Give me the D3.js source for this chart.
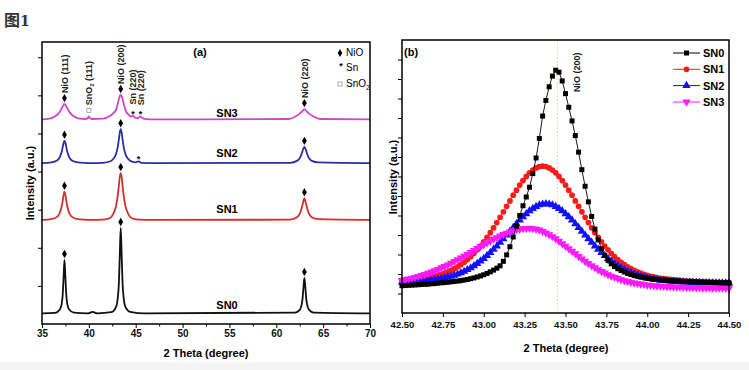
<!DOCTYPE html>
<html>
<head>
<meta charset="utf-8">
<script src="https://cdn.jsdelivr.net/npm/d3@7/dist/d3.min.js"></script>
<style>
  body { margin: 0; background: #fff; }
  svg { display: block; font-family: "Liberation Sans", Arial, sans-serif; }
</style>
</head>
<body>
<script>
// (a) XRD patterns, [2theta, intensity] pairs
var sn0 = [[35,0.28],[36.4,0.29],[36.9,0.38],[37.1,0.52],[37.2,0.74],[37.3,1.20],[37.4,1.68],[37.5,1.20],[37.6,0.74],[37.7,0.52],[37.9,0.38],[38.4,0.30],
  [39.9,0.28],[40.4,0.32],[40.9,0.28],[42.4,0.31],[42.9,0.45],[43.1,0.72],[43.2,1.05],[43.3,1.80],[43.4,2.52],[43.5,1.80],[43.6,1.05],[43.7,0.72],[43.9,0.45],[44.4,0.32],
  [46,0.28],[62.0,0.30],[62.5,0.37],[62.7,0.50],[62.8,0.66],[62.9,0.96],[63.0,1.21],[63.1,0.96],[63.2,0.66],[63.3,0.50],[63.5,0.37],[64.0,0.30],[70,0.28]];
var sn1 = [[35,2.73],[36.0,2.75],[36.6,2.81],[36.9,2.92],[37.1,3.09],[37.2,3.22],[37.3,3.38],[37.4,3.47],[37.5,3.38],[37.6,3.22],[37.7,3.09],[37.9,2.92],[38.2,2.81],[38.8,2.75],
  [40,2.73],[41.5,2.74],[42.3,2.79],[42.6,2.89],[42.9,3.10],[43.1,3.40],[43.2,3.62],[43.3,3.86],[43.4,3.96],[43.5,3.86],[43.6,3.62],[43.7,3.40],[43.9,3.10],[44.2,2.89],[44.5,2.79],[45.3,2.74],
  [47,2.73],[61.5,2.74],[62.2,2.80],[62.5,2.89],[62.7,3.03],[62.8,3.13],[62.9,3.23],[63.0,3.30],[63.1,3.23],[63.2,3.13],[63.3,3.03],[63.5,2.89],[63.8,2.80],[64.5,2.75],[70,2.73]];
var sn2 = [[35,4.22],[36.0,4.24],[36.6,4.29],[36.9,4.38],[37.1,4.52],[37.2,4.63],[37.3,4.75],[37.4,4.81],[37.5,4.75],[37.6,4.63],[37.7,4.52],[37.9,4.38],[38.2,4.29],[38.8,4.24],
  [40,4.22],[41.5,4.23],[42.3,4.27],[42.6,4.33],[42.9,4.46],[43.1,4.67],[43.2,4.84],[43.3,5.02],[43.4,5.11],[43.5,5.02],[43.6,4.84],[43.7,4.67],[43.9,4.46],[44.2,4.33],[44.6,4.26],
  [45.0,4.24],[45.3,4.27],[45.6,4.23],[47,4.22],[61.5,4.23],[62.2,4.28],[62.5,4.35],[62.7,4.46],[62.8,4.54],[62.9,4.61],[63.0,4.65],[63.1,4.61],[63.2,4.54],[63.3,4.46],[63.5,4.35],[63.8,4.28],[64.5,4.24],[70,4.22]];
var sn3 = [[35,5.37],[35.8,5.39],[36.4,5.45],[36.9,5.57],[37.1,5.66],[37.2,5.70],[37.3,5.75],[37.4,5.77],[37.5,5.75],[37.6,5.70],[37.7,5.66],[37.9,5.57],[38.4,5.45],[39.0,5.39],
  [39.7,5.38],[39.9,5.41],[40.0,5.45],[40.1,5.41],[40.3,5.38],[41.5,5.39],[42.2,5.45],[42.6,5.53],[42.9,5.62],[43.1,5.80],[43.2,5.90],[43.3,5.98],[43.4,6.01],[43.5,5.98],[43.6,5.90],[43.7,5.80],[43.9,5.62],
  [44.2,5.50],[44.5,5.44],[44.7,5.47],[44.9,5.42],[45.2,5.40],[45.5,5.45],[45.8,5.39],[46.5,5.37],[61.3,5.38],[62.0,5.44],[62.5,5.52],[62.8,5.59],[63.0,5.64],[63.2,5.59],[63.5,5.52],[64.0,5.44],[64.7,5.38],[70,5.37]];

var nioPeaks = [37.4, 43.4, 63.0];
var snPeaksSN3 = [44.7, 45.5];
var snPeaksSN2 = [45.3];
var sno2Peak = 40.0;
var peakLabels = [
  {theta: 37.4, text: "NiO (111)"},
  {theta: 40.0, text: "SnO", sub: "2", tail: " (111)"},
  {theta: 43.4, text: "NiO (200)"},
  {theta: 44.7, text: "Sn (220)"},
  {theta: 45.5, text: "Sn (220)"},
  {theta: 63.0, text: "NiO (220)"}
];

// (b) NiO (200) zoom, 2theta 42.50 .. 44.50 every 0.02
var thetaStart = 42.5, thetaStep = 0.02;
var b0 = [1.40,1.41,1.42,1.43,1.44,1.45,1.46,1.47,1.48,1.50,1.51,1.53,1.55,1.56,1.58,1.60,1.62,1.64,1.66,1.69,
  1.72,1.76,1.80,1.85,1.90,1.96,2.03,2.11,2.20,2.30,2.42,2.65,2.98,3.40,3.90,4.45,5.00,5.50,5.95,6.45,
  7.15,7.95,8.95,10.10,10.90,11.60,12.15,12.45,12.35,11.90,11.25,10.55,9.85,9.10,8.25,7.35,6.50,5.70,4.95,4.30,
  3.75,3.30,2.95,2.70,2.52,2.38,2.27,2.18,2.10,2.03,1.97,1.92,1.88,1.84,1.81,1.78,1.76,1.74,1.72,1.70,
  1.69,1.67,1.66,1.65,1.64,1.63,1.62,1.61,1.60,1.60,1.59,1.58,1.58,1.57,1.57,1.56,1.56,1.55,1.55,1.55,1.54];
var b1 = [1.67,1.68,1.69,1.71,1.73,1.75,1.77,1.79,1.82,1.86,1.89,1.93,1.98,2.04,2.11,2.18,2.27,2.37,2.48,2.60,
  2.74,2.89,3.05,3.24,3.43,3.65,3.88,4.12,4.37,4.64,4.91,5.19,5.47,5.75,6.04,6.30,6.56,6.79,7.00,7.19,
  7.33,7.44,7.51,7.53,7.51,7.44,7.33,7.19,7.00,6.79,6.56,6.30,6.04,5.75,5.47,5.19,4.91,4.64,4.37,4.12,
  3.88,3.65,3.43,3.24,3.05,2.89,2.74,2.60,2.48,2.37,2.27,2.18,2.11,2.04,1.98,1.93,1.88,1.85,1.81,1.78,
  1.76,1.74,1.72,1.70,1.68,1.67,1.66,1.64,1.63,1.62,1.61,1.60,1.60,1.59,1.58,1.58,1.57,1.57,1.56,1.56,1.55];
var b2 = [1.57,1.58,1.59,1.60,1.61,1.62,1.63,1.65,1.67,1.68,1.71,1.73,1.76,1.79,1.84,1.88,1.93,1.99,2.06,2.13,
  2.22,2.31,2.42,2.53,2.66,2.79,2.94,3.10,3.26,3.43,3.62,3.80,3.99,4.19,4.38,4.57,4.76,4.93,5.09,5.24,
  5.36,5.46,5.54,5.58,5.60,5.58,5.54,5.46,5.36,5.24,5.09,4.93,4.76,4.57,4.38,4.19,3.99,3.80,3.62,3.43,
  3.26,3.10,2.94,2.79,2.66,2.53,2.42,2.31,2.22,2.13,2.06,1.99,1.93,1.88,1.84,1.79,1.76,1.73,1.71,1.68,
  1.67,1.65,1.63,1.62,1.61,1.60,1.59,1.58,1.57,1.57,1.56,1.56,1.55,1.55,1.55,1.54,1.54,1.54,1.53,1.53,1.53];
var b3 = [1.67,1.71,1.75,1.79,1.83,1.88,1.93,1.98,2.04,2.11,2.17,2.24,2.32,2.39,2.47,2.56,2.64,2.73,2.82,2.92,
  3.01,3.11,3.21,3.31,3.41,3.50,3.60,3.70,3.79,3.87,3.96,4.03,4.10,4.16,4.22,4.27,4.30,4.33,4.34,4.35,
  4.33,4.30,4.26,4.19,4.11,4.02,3.92,3.81,3.68,3.56,3.43,3.30,3.17,3.04,2.90,2.78,2.66,2.54,2.43,2.32,
  2.22,2.13,2.05,1.97,1.89,1.83,1.77,1.71,1.66,1.62,1.58,1.54,1.51,1.49,1.46,1.44,1.42,1.40,1.39,1.38,
  1.37,1.36,1.35,1.34,1.33,1.33,1.32,1.31,1.31,1.30,1.30,1.30,1.29,1.29,1.29,1.28,1.28,1.28,1.28,1.27,1.27];

var names = ["SN0", "SN1", "SN2", "SN3"];
var colorsA = ["#111111", "#d2302c", "#2b2fa3", "#cf45cf"];
var colorsB = ["#000000", "#ff1a1a", "#1010ff", "#ff1aff"];
var symbolsB = ["square", "circle", "up", "down"];

var width = 749, height = 370;
var svg = d3.select("body").append("svg").attr("width", width).attr("height", height);
svg.append("rect").attr("x", 0).attr("y", 362).attr("width", width).attr("height", 8).attr("fill", "#f3f3f3");

var title = svg.append("text").attr("x", 4).attr("y", 26).attr("fill", "#333");
title.append("tspan").style("font-family", '"Noto Sans CJK SC", sans-serif').style("font-size", "16px").style("font-weight", "bold").text("图");
title.append("tspan").style("font-family", '"DejaVu Serif", serif').style("font-size", "14px").style("font-weight", "bold").text("1");

// ---------- panel (a) ----------
var xA = d3.scaleLinear().domain([35, 70]).range([42, 370]);
var yA = d3.scaleLinear().domain([0, 7.4]).range([324, 42]);
var gA = svg.append("g");

var lineA = d3.line().x(d => xA(d[0])).y(d => yA(d[1])).curve(d3.curveMonotoneX);
[sn0, sn1, sn2, sn3].forEach((s, i) => {
  gA.append("path").attr("d", lineA(s)).attr("fill", "none")
    .attr("stroke", colorsA[i]).attr("stroke-width", 1.8);
});

var peakAt = (s, t) => d3.max(s.filter(d => Math.abs(d[0] - t) < 0.15), d => d[1]);

// NiO diamonds over every sample
[sn0, sn1, sn2, sn3].forEach(s => {
  nioPeaks.forEach(t => {
    gA.append("path").attr("d", d3.symbol(d3.symbolDiamond, 20)())
      .attr("transform", "translate(" + xA(t) + "," + (yA(peakAt(s, t)) - 6) + ")")
      .attr("fill", "#000");
  });
});
// Sn marks
snPeaksSN3.map(t => [t, sn3]).concat(snPeaksSN2.map(t => [t, sn2])).forEach(p => {
  gA.append("text").attr("x", xA(p[0])).attr("y", yA(peakAt(p[1], p[0])) + 1)
    .attr("text-anchor", "middle").style("font-size", "9px").style("font-weight", "bold").text("*");
});
// SnO2 square
gA.append("rect").attr("x", xA(sno2Peak) - 2).attr("y", yA(peakAt(sn3, sno2Peak)) - 8)
  .attr("width", 4).attr("height", 4).attr("fill", "#fff").attr("stroke", "#999").attr("stroke-width", 0.8);

// rotated peak labels above SN3
peakLabels.forEach(l => {
  var y0 = yA(peakAt(sn3, l.theta)) - 11;
  var t = gA.append("text")
    .attr("transform", "translate(" + (xA(l.theta) + 3.2) + "," + y0 + ") rotate(-90)")
    .style("font-size", "9px").style("font-weight", "bold").attr("fill", "#222");
  t.append("tspan").text(l.text);
  if (l.sub) {
    t.append("tspan").attr("dy", 2).style("font-size", "6px").text(l.sub);
    t.append("tspan").attr("dy", -2).text(l.tail);
  }
});

// sample names
var nameY = [309, 213, 157, 117];
names.forEach((n, i) => {
  gA.append("text").attr("x", 227).attr("y", nameY[i]).attr("text-anchor", "middle")
    .style("font-size", "11px").style("font-weight", "bold").text(n);
});
gA.append("text").attr("x", 200).attr("y", 56).attr("text-anchor", "middle")
  .style("font-size", "11px").style("font-weight", "bold").text("(a)");

// legend (a)
gA.append("path").attr("d", d3.symbol(d3.symbolDiamond, 18)()).attr("transform", "translate(340,53)");
gA.append("text").attr("x", 346).attr("y", 56).style("font-size", "10px").text("NiO");
gA.append("text").attr("x", 341).attr("y", 69).attr("text-anchor", "middle").style("font-size", "9px").style("font-weight", "bold").text("*");
gA.append("text").attr("x", 346).attr("y", 71).style("font-size", "10px").text("Sn");
gA.append("rect").attr("x", 338).attr("y", 82).attr("width", 4).attr("height", 4).attr("fill", "#fff").attr("stroke", "#999").attr("stroke-width", 0.8);
var lt = gA.append("text").attr("x", 346).attr("y", 87).style("font-size", "10px");
lt.append("tspan").text("SnO");
lt.append("tspan").attr("dy", 3).style("font-size", "7px").text("2");

// axes (a)
gA.append("g").attr("transform", "translate(0,324)")
  .call(d3.axisBottom(xA).tickValues(d3.range(35, 71, 5)).tickSize(4).tickPadding(2))
  .call(g => g.select(".domain").remove());
gA.append("g").attr("transform", "translate(0,324)")
  .call(d3.axisBottom(xA).tickValues(d3.range(37.5, 70, 5)).tickSize(2.5).tickFormat(""))
  .call(g => g.select(".domain").remove());
gA.append("g").attr("transform", "translate(42,0)")
  .call(d3.axisLeft(yA).tickValues(d3.range(1, 8)).tickSize(4).tickFormat(""))
  .call(g => g.select(".domain").remove());
gA.append("rect").attr("x", 42).attr("y", 42).attr("width", 328).attr("height", 282)
  .attr("fill", "none").attr("stroke", "#000").attr("stroke-width", 1.5);
gA.append("text").attr("x", 206).attr("y", 357).attr("text-anchor", "middle")
  .style("font-size", "11px").style("font-weight", "bold").text("2 Theta (degree)");
gA.append("text").attr("transform", "translate(34,183) rotate(-90)").attr("text-anchor", "middle")
  .style("font-size", "11px").style("font-weight", "bold").text("Intensity (a.u.)");

// ---------- panel (b) ----------
var xB = d3.scaleLinear().domain([42.5, 44.5]).range([402, 729]);
var yB = d3.scaleLinear().domain([0, 14]).range([313, 40]);
var gB = svg.append("g");

gB.append("line").attr("x1", xB(43.45)).attr("x2", xB(43.45)).attr("y1", 40).attr("y2", 313)
  .attr("stroke", "#d8c7a0").attr("stroke-dasharray", "1.5,2");
gB.append("text").attr("transform", "translate(" + (xB(43.45) + 23) + ",92) rotate(-90)")
  .style("font-size", "9px").style("font-weight", "bold").attr("fill", "#222").text("NiO (200)");

var symbolPath = (k, s) => {
  if (k === "square") return d3.symbol(d3.symbolSquare, s * 25)();
  if (k === "circle") return d3.symbol(d3.symbolCircle, s * 26)();
  return d3.symbol(d3.symbolTriangle, s * 30)();
};
var lineB = d3.line().x((d, i) => xB(thetaStart + i * thetaStep)).y(d => yB(d));
// SN0 goes last so its squares sit over the broad peaks where they cross
[1, 2, 3, 0].forEach(k => {
  var s = [b0, b1, b2, b3][k];
  var g = gB.append("g");
  g.append("path").attr("d", lineB(s)).attr("fill", "none").attr("stroke", colorsB[k]).attr("stroke-width", 0.9);
  g.selectAll("path.m").data(s).enter().append("path").attr("class", "m")
    .attr("d", symbolPath(symbolsB[k], 1))
    .attr("transform", (d, i) => "translate(" + xB(thetaStart + i * thetaStep) + "," + yB(d) + ")" + (symbolsB[k] === "down" ? " rotate(180)" : ""))
    .attr("fill", colorsB[k]);
});

// legend (b)
var legY = [53, 69.3, 85.6, 102];
names.forEach((n, k) => {
  gB.append("line").attr("x1", 673).attr("x2", 700).attr("y1", legY[k]).attr("y2", legY[k])
    .attr("stroke", colorsB[k]).attr("stroke-width", 1);
  gB.append("path").attr("d", symbolPath(symbolsB[k], 1))
    .attr("transform", "translate(686.5," + legY[k] + ")" + (symbolsB[k] === "down" ? " rotate(180)" : ""))
    .attr("fill", colorsB[k]);
  gB.append("text").attr("x", 703).attr("y", legY[k] + 4)
    .style("font-size", "11px").style("font-weight", "bold").text(n);
});
gB.append("text").attr("x", 404).attr("y", 56).style("font-size", "11px").style("font-weight", "bold").text("(b)");

// axes (b)
gB.append("g").attr("transform", "translate(0,313)")
  .call(d3.axisBottom(xB).tickValues(d3.range(42.5, 44.51, 0.25)).tickFormat(d3.format(".2f")).tickSize(4).tickPadding(4))
  .call(g => g.select(".domain").remove());
gB.append("g").attr("transform", "translate(402,0)")
  .call(d3.axisLeft(yB).tickValues(d3.range(1, 14)).tickSize(4).tickFormat(""))
  .call(g => g.select(".domain").remove());
gB.append("rect").attr("x", 402).attr("y", 40).attr("width", 327).attr("height", 273)
  .attr("fill", "none").attr("stroke", "#000").attr("stroke-width", 1.5);
gB.append("text").attr("x", 566).attr("y", 352).attr("text-anchor", "middle")
  .style("font-size", "11px").style("font-weight", "bold").text("2 Theta (degree)");
gB.append("text").attr("transform", "translate(397,177) rotate(-90)").attr("text-anchor", "middle")
  .style("font-size", "11px").style("font-weight", "bold").text("Intensity (a.u.)");

svg.selectAll(".tick text").style("font-size", "10px").style("font-weight", "bold").attr("fill", "#111");
gB.selectAll(".tick text").style("font-size", "9.5px");
svg.selectAll(".tick line").attr("stroke", "#000").attr("stroke-width", 1);
</script>
</body>
</html>
